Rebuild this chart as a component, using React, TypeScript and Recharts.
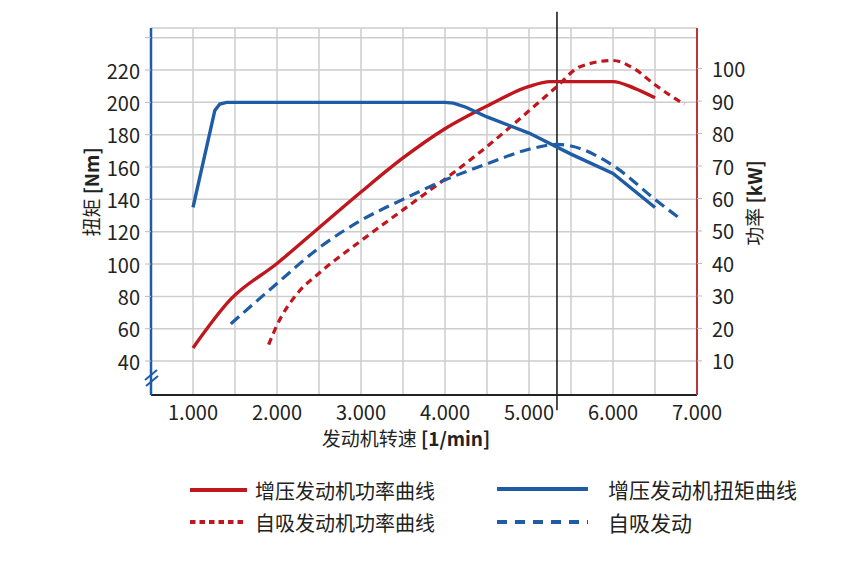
import React from 'react';
import {
  ComposedChart,
  Line,
  XAxis,
  YAxis,
  CartesianGrid,
  ReferenceLine,
  Customized,
} from 'recharts';

// ---------------------------------------------------------------------------
// Data
// ---------------------------------------------------------------------------

const rpmTicks = [1000, 1500, 2000, 2500, 3000, 3500, 4000, 4500, 5000, 5500, 6000, 6500, 7000];
const torqueTicks = [40, 60, 80, 100, 120, 140, 160, 180, 200, 220, 240];
const powerTicks = [10, 20, 30, 40, 50, 60, 70, 80, 90, 100];

const turboTorqueRpm = [1000, 1260, 1320, 1400, 4000, 4100, 4250, 4500, 5000, 5500, 6000, 6500];
const turboTorqueNm = [135, 195, 199, 200, 200, 199.5, 197, 191, 181, 168, 156, 135];

const naTorqueRpm = [1450, 2000, 2500, 3000, 3500, 4000, 4500, 5000, 5333, 5500, 6000, 6500, 6800];
const naTorqueNm = [63, 88, 110, 127, 140, 152, 162, 171, 174, 173, 161, 140, 128];

const turboPowerRpm = [1000, 1450, 2000, 2500, 3000, 3500, 4000, 4500, 5000, 5250, 5500, 6000, 6250, 6500];
const turboPowerKw = [14, 29, 40, 51, 62, 72.5, 81.5, 88.5, 94.5, 96, 96, 96, 94, 91];

const naPowerRpm = [1900, 2000, 2250, 2500, 3000, 3500, 4000, 4500, 5000, 5333, 5600, 6000, 6250, 6500, 6850];
const naPowerKw = [15, 21, 31, 37, 47, 56.5, 66, 76, 87, 94.5, 100.5, 102.5, 100, 95, 89];

const markerRpm = 5333;

const legendLabels = ['增压发动机功率曲线', '增压发动机扭矩曲线', '自吸发动机功率曲线', '自吸发动'];

// ---------------------------------------------------------------------------
// Styling
// ---------------------------------------------------------------------------

const FONT = '"Noto Sans CJK SC", "Noto Sans", sans-serif';
const BLUE = '#1f5ca6';
const RED = '#c0161d';
const RED_AXIS = '#b8383e';
const GRID = '#cdcdcd';
const TEXT = '#222';
const TICK_SIZE = 20;

const toPoints = (xs: number[], ys: number[]) => xs.map((rpm, i) => ({ rpm, v: ys[i] }));

const formatRpm = (v: number) => (v / 1000).toFixed(3);

// ---------------------------------------------------------------------------
// Ticks and titles
// ---------------------------------------------------------------------------

const XTick = ({ x, y, payload }: any) => {
  if (payload.value % 1000 !== 0) return <g />;
  return (
    <text x={x} y={y + 16} textAnchor="middle" dominantBaseline="central" fontSize={TICK_SIZE} fill={TEXT} fontFamily={FONT}>
      {formatRpm(payload.value)}
    </text>
  );
};

const LeftTick = ({ x, y, payload }: any) => {
  if (payload.value > 220) return <g />;
  return (
    <text x={x} y={y} textAnchor="end" dominantBaseline="central" fontSize={TICK_SIZE} fill={TEXT} fontFamily={FONT}>
      {payload.value}
    </text>
  );
};

const RightTick = ({ x, y, payload }: any) => (
  <text x={x} y={y} textAnchor="start" dominantBaseline="central" fontSize={TICK_SIZE} fill={TEXT} fontFamily={FONT}>
    {payload.value}
  </text>
);

const LeftTitle = () => (
  <text x={90} y={192} transform="rotate(-90 90 192)" textAnchor="middle" dominantBaseline="central" fontSize={19} fill={TEXT} fontFamily={FONT}>
    扭矩 <tspan fontWeight="bold">[Nm]</tspan>
  </text>
);

const RightTitle = () => (
  <text x={753} y={203} transform="rotate(-90 753 203)" textAnchor="middle" dominantBaseline="central" fontSize={19} fill={TEXT} fontFamily={FONT}>
    功率 <tspan fontWeight="bold">[kW]</tspan>
  </text>
);

const XTitle = () => (
  <text x={406} y={437} textAnchor="middle" dominantBaseline="central" fontSize={19} fill={TEXT} fontFamily={FONT}>
    发动机转速 <tspan fontWeight="bold">[1/min]</tspan>
  </text>
);

// the "//" break at the foot of the torque axis
const AxisBreak = () => (
  <g>
    <rect x={143} y={369} width={16} height={16} fill="#fff" />
    <line x1={151} y1={384} x2={151} y2={395} stroke={TEXT} strokeWidth={2} />
    <line x1={145} y1={380} x2={157} y2={370} stroke={BLUE} strokeWidth={2} />
    <line x1={146} y1={386} x2={158} y2={376} stroke={BLUE} strokeWidth={2} />
  </g>
);

// ---------------------------------------------------------------------------
// Legend
// ---------------------------------------------------------------------------

const ChartLegend = () => (
  <svg width={852} height={90} style={{ position: 'absolute', left: 0, top: 460 }}>
    <g fontFamily={FONT} fill={TEXT}>
      <line x1={190} y1={30} x2={247} y2={30} stroke={RED} strokeWidth={4} />
      <text x={255} y={30} fontSize={20} dominantBaseline="central">{legendLabels[0]}</text>
      <line x1={497} y1={29} x2={588} y2={29} stroke={BLUE} strokeWidth={4} />
      <text x={608} y={29} fontSize={21} dominantBaseline="central">{legendLabels[1]}</text>
      <line x1={190} y1={62} x2={247} y2={62} stroke={RED} strokeWidth={4} strokeDasharray="5.5 4" />
      <text x={255} y={62} fontSize={20} dominantBaseline="central">{legendLabels[2]}</text>
      <line x1={497} y1={62} x2={588} y2={62} stroke={BLUE} strokeWidth={4} strokeDasharray="10 8" />
      <text x={608} y={62} fontSize={21} dominantBaseline="central">{legendLabels[3]}</text>
    </g>
  </svg>
);

// ---------------------------------------------------------------------------
// Component
// ---------------------------------------------------------------------------

const App: React.FC = () => (
  <div style={{ position: 'absolute', left: 0, top: 0, width: 852, height: 564, background: '#fff' }}>
    <ComposedChart width={852} height={564} margin={{ top: 28, right: 0, bottom: 124, left: 0 }}>
      <CartesianGrid yAxisId="torque" stroke={GRID} strokeWidth={1.5} />
      <XAxis
        dataKey="rpm"
        type="number"
        domain={[500, 7000]}
        ticks={rpmTicks}
        interval={0}
        allowDuplicatedCategory={false}
        height={45}
        tickLine={false}
        tickSize={0}
        tickMargin={0}
        tick={<XTick />}
        axisLine={{ stroke: TEXT, strokeWidth: 2 }}
        label={<XTitle />}
      />
      <YAxis
        yAxisId="torque"
        orientation="left"
        type="number"
        domain={[19, 246]}
        ticks={torqueTicks}
        interval={0}
        width={151}
        tickSize={6}
        tickMargin={5}
        tickLine={{ stroke: '#bbb' }}
        tick={<LeftTick />}
        axisLine={{ stroke: BLUE, strokeWidth: 2.5 }}
        label={<LeftTitle />}
      />
      <YAxis
        yAxisId="power"
        orientation="right"
        type="number"
        domain={[-0.5, 112.5]}
        ticks={powerTicks}
        interval={0}
        width={155}
        tickSize={5}
        tickMargin={10}
        tickLine={{ stroke: '#bbb' }}
        tick={<RightTick />}
        axisLine={{ stroke: RED_AXIS, strokeWidth: 2 }}
        label={<RightTitle />}
      />
      <ReferenceLine
        yAxisId="torque"
        segment={[{ x: markerRpm, y: 256 }, { x: markerRpm, y: 9.5 }]}
        stroke="#111"
        strokeWidth={1.5}
        ifOverflow="visible"
      />
      <Line
        yAxisId="power"
        data={toPoints(naPowerRpm, naPowerKw)}
        dataKey="v"
        type="monotone"
        stroke={RED}
        strokeWidth={3.2}
        strokeDasharray="7 5"
        dot={false}
        isAnimationActive={false}
      />
      <Line
        yAxisId="torque"
        data={toPoints(naTorqueRpm, naTorqueNm)}
        dataKey="v"
        type="monotone"
        stroke={BLUE}
        strokeWidth={3.2}
        strokeDasharray="11 6"
        dot={false}
        isAnimationActive={false}
      />
      <Line
        yAxisId="power"
        data={toPoints(turboPowerRpm, turboPowerKw)}
        dataKey="v"
        type="monotone"
        stroke={RED}
        strokeWidth={3.4}
        dot={false}
        isAnimationActive={false}
      />
      <Line
        yAxisId="torque"
        data={toPoints(turboTorqueRpm, turboTorqueNm)}
        dataKey="v"
        type="linear"
        stroke={BLUE}
        strokeWidth={3.4}
        dot={false}
        isAnimationActive={false}
      />
      <Customized component={AxisBreak} />
    </ComposedChart>
    <ChartLegend />
  </div>
);

export default App;
